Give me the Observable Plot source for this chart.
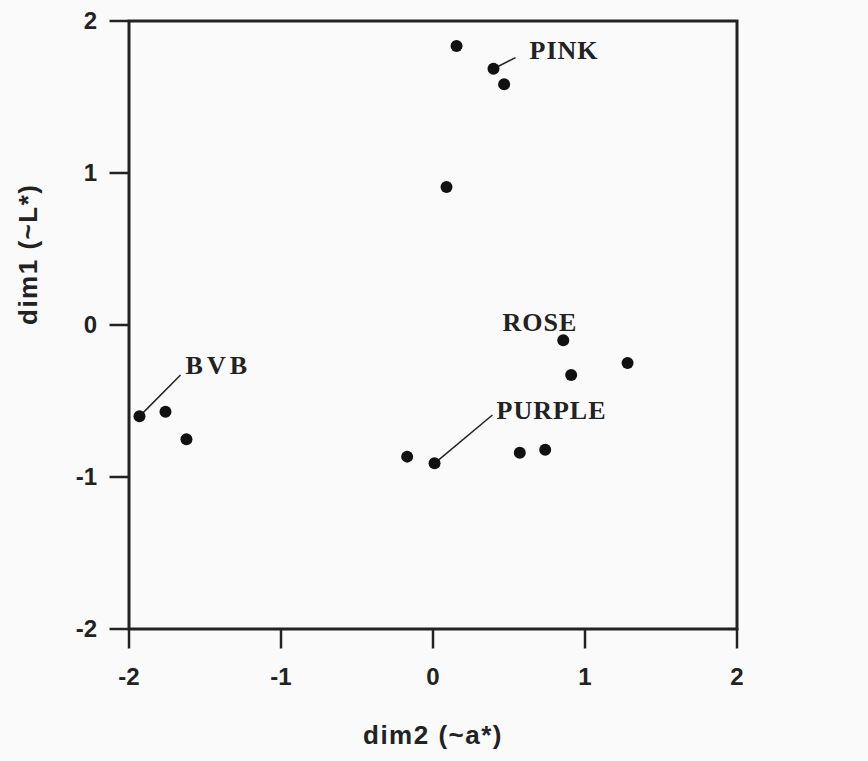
<!DOCTYPE html>
<html>
<head>
<meta charset="utf-8">
<script src="https://cdn.jsdelivr.net/npm/d3@7"></script>
<script src="https://cdn.jsdelivr.net/npm/@observablehq/plot@0.6"></script>
<style>
  html, body { margin: 0; padding: 0; background: #fafafa; }
</style>
</head>
<body>
<div id="chart"></div>
<script>
// Points (dim2 ~ a*, dim1 ~ L*)
const dim2 = [0.155, 0.398, 0.468, 0.089, 0.857, 1.280, 0.909, -0.170, 0.010, 0.571, 0.738, -1.931, -1.760, -1.622];
const dim1 = [1.836, 1.686, 1.584, 0.908, -0.101, -0.250, -0.329, -0.866, -0.910, -0.840, -0.820, -0.601, -0.570, -0.752];

// Group labels (data coordinates of text start)
const labelText = ["PINK", "ROSE", "BVB", "PURPLE"];
const labelX = [0.635, 0.457, -1.628, 0.418];
const labelY = [1.803, 0.013, -0.270, -0.566];
const labelSpacing = [1, 1, 4, 1];

// Leader lines: from point to label
const leaderX1 = [0.398, -1.931, 0.010];
const leaderY1 = [1.686, -0.601, -0.910];
const leaderX2 = [0.543, -1.661, 0.391];
const leaderY2 = [1.759, -0.329, -0.592];

const ticks = [-2, -1, 0, 1, 2];
const xTitle = "dim2 (~a*)";
const yTitle = "dim1 (~L*)";

const points = dim2.map((x, i) => ({x, y: dim1[i]}));
const labels = labelText.map((t, i) => ({t, x: labelX[i], y: labelY[i]}));
const leaders = leaderX1.map((x1, i) => ({x1, y1: leaderY1[i], x2: leaderX2[i], y2: leaderY2[i]}));

const sansFont = "'Liberation Sans', Arial, sans-serif";
const serifFont = "'Liberation Serif', 'Times New Roman', serif";
const ink = "#222";

const chart = Plot.plot({
  width: 868,
  height: 761,
  marginLeft: 128.5,
  marginRight: 131.5,
  marginTop: 20.5,
  marginBottom: 132.5,
  style: {background: "#fafafa", color: ink, fontFamily: sansFont, overflow: "visible"},
  x: {domain: [-2, 2]},
  y: {domain: [-2, 2]},
  marks: [
    Plot.frame({stroke: ink, strokeWidth: 3}),
    Plot.axisX({ticks, tickSize: 20, tickPadding: 19, tickFormat: d => String(d), label: null,
      stroke: ink, strokeWidth: 2.5, fontSize: 24, fontWeight: "bold", fill: ink}),
    Plot.axisY({ticks, tickSize: 19, tickPadding: 13, tickFormat: d => String(d), label: null,
      stroke: ink, strokeWidth: 2.5, fontSize: 24, fontWeight: "bold", fill: ink}),
    Plot.text([xTitle], {frameAnchor: "bottom", dy: 115, text: d => d, fontSize: 26, fontWeight: "bold", fill: ink}),
    Plot.text([yTitle], {frameAnchor: "left", dx: -100, rotate: -90, text: d => d, fontSize: 26, fontWeight: "bold", fill: ink}),
    Plot.link(leaders, {x1: "x1", y1: "y1", x2: "x2", y2: "y2", stroke: ink, strokeWidth: 1.5}),
    Plot.dot(points, {x: "x", y: "y", r: 6, fill: "#111", stroke: "none"}),
    Plot.text(labels, {x: "x", y: "y", text: "t", textAnchor: "start", fontSize: 26, fontWeight: "bold",
      fontFamily: serifFont, fill: ink})
  ]
});

// letter spacing for group labels and axis titles
chart.querySelectorAll("text").forEach(n => {
  const idx = labelText.indexOf(n.textContent);
  if (idx >= 0) n.setAttribute("letter-spacing", labelSpacing[idx]);
  if (n.textContent === xTitle || n.textContent === yTitle) n.setAttribute("letter-spacing", 1.5);
});

document.getElementById("chart").appendChild(chart);
</script>
</body>
</html>
